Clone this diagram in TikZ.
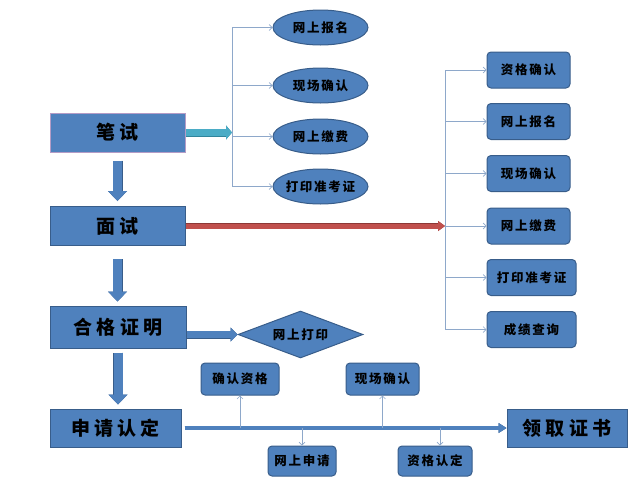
\documentclass[tikz,border=0pt]{standalone}
\usepackage{fontspec}
\newfontfamily\cjk{Noto Sans CJK SC}[LetterSpace=22]
\newfontfamily\cjksmall{Noto Sans CJK SC}[LetterSpace=14]
\usetikzlibrary{shapes.geometric,arrows.meta}

\definecolor{boxfill}{HTML}{4F81BD}
\definecolor{boxline}{HTML}{385D8A}
\definecolor{pinkline}{HTML}{B49CC6}
\definecolor{tealfill}{HTML}{4BACC6}
\definecolor{tealline}{HTML}{31859C}
\definecolor{redfill}{HTML}{C0504D}
\definecolor{redline}{HTML}{8C3836}
\definecolor{thinline}{HTML}{8EA8CA}

\tikzset{
  bigbox/.style={draw=boxline, fill=boxfill, line width=1pt, minimum width=135pt,
    minimum height=39pt, inner sep=0pt, font=\cjk\bfseries\fontsize{19}{19}\selectfont},
  smallbox/.style={draw=boxline, fill=boxfill, line width=1pt, rounded corners=4pt,
    minimum width=83pt, minimum height=36pt, inner sep=0pt,
    font=\cjksmall\bfseries\fontsize{12.5}{13}\selectfont},
  oval/.style={ellipse, draw=boxline, fill=boxfill, line width=1pt, minimum width=95pt,
    minimum height=35pt, inner sep=0pt, font=\cjksmall\bfseries\fontsize{12.5}{13}\selectfont},
  thin/.style={draw=thinline, line width=0.6pt},
  thinarrow/.style={thin, -{Straight Barb[length=3pt,width=6pt]}},
  downarrow/.style={draw=boxfill, line width=9pt, -{Triangle[length=10pt,width=19pt,line width=0pt]},
    preaction={draw=boxline, line width=10pt, -{Triangle[length=10pt,width=19pt,line width=1pt]}}},
  tealarrow/.style={draw=tealfill, line width=7pt, -{Triangle[length=6pt,width=14pt,line width=0pt]},
    preaction={draw=tealline, line width=8pt, -{Triangle[length=6pt,width=14pt,line width=1pt]}}},
  bluearrow/.style={draw=boxfill, line width=7pt, -{Triangle[length=7pt,width=14pt,line width=0pt]},
    preaction={draw=boxline, line width=8pt, -{Triangle[length=7pt,width=14pt,line width=1pt]}}},
  redarrow/.style={draw=redfill, line width=5pt, -{Triangle[length=7pt,width=10pt,line width=0pt]},
    preaction={draw=redline, line width=6pt, -{Triangle[length=7pt,width=10pt,line width=1pt]}}},
  mainline/.style={draw=boxfill, line width=3.5pt, -{Triangle[length=8pt,width=10pt,line width=0pt]},
    preaction={draw=boxline, line width=4.3pt, -{Triangle[length=8pt,width=10pt,line width=0.8pt]}}},
}

\begin{document}
\begin{tikzpicture}[x=1pt,y=-1pt]
  \useasboundingbox (0,0) rectangle (640,485);

  % left column
  \node[bigbox, draw=pinkline] (bishi) at (117.5,132.5) {笔试};
  \node[bigbox] (mianshi) at (117.5,226) {面试};
  \node[bigbox, minimum width=136pt, minimum height=42pt] (hege) at (118,327) {合格证明};
  \node[bigbox, minimum width=131pt, minimum height=38pt] (shenqing) at (115.5,428) {申请认定};
  \node[bigbox, minimum width=120pt, minimum height=38pt] (lingqu) at (567,428) {领取证书};

  \draw[downarrow, shorten <=8pt, shorten >=5pt] (bishi.south) -- (bishi.south |- mianshi.north);
  \draw[downarrow, shorten <=13pt, shorten >=4pt] (mianshi.south) -- (mianshi.south |- hege.north);
  \draw[downarrow, shorten <=4pt, shorten >=4pt] (hege.south) -- (hege.south |- shenqing.north);

  % written test
  \foreach \y/\n/\t in {27.5/e1/网上报名, 85.5/e2/现场确认, 136.5/e3/网上缴费, 186.5/e4/打印准考证}
    \node[oval] (\n) at (320.5,\y) {\makebox[0pt]{\t}};
  \coordinate (lb) at (232,0);
  \draw[thin] (lb |- e1) -- (lb |- e4);
  \foreach \n in {e1,e2,e3,e4}
    \draw[thinarrow] (lb |- \n) -- (\n.west);
  \draw[tealarrow] (bishi.east) -- (lb |- bishi.east);

  % interview
  \foreach \y/\n/\t in {70/r1/资格确认, 121.5/r2/网上报名, 173.5/r3/现场确认, 226/r4/网上缴费}
    \node[smallbox] (\n) at (528.5,\y) {\t};
  \node[smallbox, minimum width=89pt] (r5) at (531.5,277.5) {打印准考证};
  \node[smallbox, minimum width=89pt] (r6) at (531.5,329.5) {成绩查询};
  \coordinate (rb) at (445,0);
  \draw[thin] (rb |- r1) -- (rb |- r6);
  \foreach \n in {r1,r2,r3,r4,r5,r6}
    \draw[thinarrow] (rb |- \n) -- (\n.west);
  \draw[redarrow] (mianshi.east) -- (rb |- mianshi.east);

  % certificate
  \node[diamond, aspect=2.66, draw=boxline, fill=boxfill, line width=1pt, minimum width=125pt,
    minimum height=47pt, inner sep=0pt, font=\cjksmall\bfseries\fontsize{12.5}{13}\selectfont]
    (print) at (300.5,334.5) {网上打印};
  \draw[bluearrow] (hege.east |- print.west) -- (print.west);

  % application
  \node[smallbox, minimum width=78pt, minimum height=32pt] (qr) at (240,379) {确认资格};
  \node[smallbox, minimum width=73pt, minimum height=32pt] (xc) at (382.5,379) {现场确认};
  \node[smallbox, minimum width=68pt, minimum height=30pt] (ws) at (302,461) {网上申请};
  \node[smallbox, minimum width=74pt, minimum height=30pt] (zg) at (435,461) {资格认定};
  \draw[mainline, shorten <=3pt] (shenqing.east) -- (lingqu.west);
  \draw[thinarrow] (qr.south |- shenqing.east) -- (qr.south);
  \draw[thinarrow] (xc.south |- shenqing.east) -- (xc.south);
  \draw[thinarrow] (ws.north |- shenqing.east) -- (ws.north);
  \draw[thinarrow] ([xshift=5pt]zg.north |- shenqing.east) -- ([xshift=5pt]zg.north);
\end{tikzpicture}
\end{document}
